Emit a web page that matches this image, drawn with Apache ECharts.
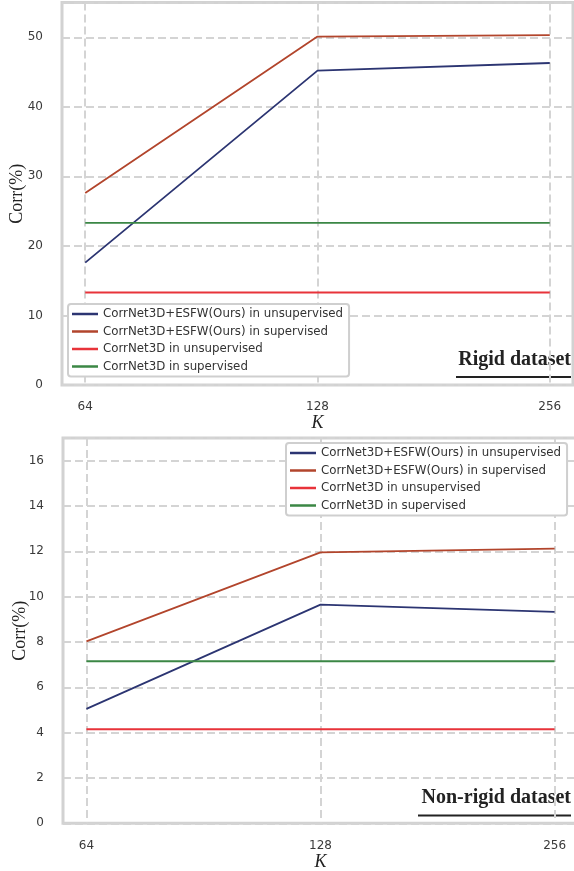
<!DOCTYPE html>
<html>
<head>
<meta charset="utf-8">
<script src="https://cdn.jsdelivr.net/npm/echarts@6/dist/echarts.min.js"></script>
<style>
html,body{margin:0;padding:0;background:#fff;}
#c{width:574px;height:871px;}
</style>
</head>
<body>
<div id="c"></div>
<script>
var kLabels = ['64', '128', '256'];
var seriesNames = ['CorrNet3D+ESFW(Ours) in unsupervised', 'CorrNet3D+ESFW(Ours) in supervised', 'CorrNet3D in unsupervised', 'CorrNet3D in supervised'];
var colors = ['#2c3572', '#b2452c', '#e8333a', '#3b8745'];
// Rigid dataset
var rigidOursUnsup = [17.6, 45.2, 46.3];
var rigidOursSup = [27.6, 50.1, 50.3];
var rigidBaseUnsup = [13.3, 13.3, 13.3];
var rigidBaseSup = [23.3, 23.3, 23.3];
// Non-rigid dataset
var nonrigidOursUnsup = [5.05, 9.65, 9.33];
var nonrigidOursSup = [8.03, 11.95, 12.12];
var nonrigidBaseUnsup = [4.15, 4.15, 4.15];
var nonrigidBaseSup = [7.15, 7.15, 7.15];

var rigidSets = [rigidOursUnsup, rigidOursSup, rigidBaseUnsup, rigidBaseSup];
var nonrigidSets = [nonrigidOursUnsup, nonrigidOursSup, nonrigidBaseUnsup, nonrigidBaseSup];

function pts(arr){ return arr.map(function(v,i){ return [i, v]; }); }

var gridLine = {show:true, lineStyle:{color:'#d4d4d4', width:2, type:[8,4]}};
var tickFont = {fontFamily:'DejaVu Sans', fontSize:12, color:'#3a3a3a'};

function xAxis(gi, gap, nameGap){
  return {
    type:'value', gridIndex:gi, min:-0.1, max:2.1,
    name:'K', nameLocation:'middle', nameGap:nameGap, nameMoveOverlap:false,
    nameTextStyle:{fontFamily:'Liberation Serif', fontStyle:'italic', fontSize:18, color:'#222'},
    axisLine:{show:false}, axisTick:{show:false, customValues:[0,1,2]},
    axisLabel:Object.assign({margin:gap, customValues:[0,1,2], formatter:function(v){ return kLabels[Math.round(v)]; }}, tickFont),
    splitLine:gridLine
  };
}
function yAxis(gi, max, interval, nameGap){
  return {
    type:'value', gridIndex:gi, min:0, max:max, interval:interval,
    name:'Corr(%)', nameLocation:'middle', nameGap:nameGap, nameMoveOverlap:false,
    nameTextStyle:{fontFamily:'Liberation Serif', fontSize:18, color:'#222'},
    axisLine:{show:false}, axisTick:{show:false},
    axisLabel:Object.assign({margin:19, showMaxLabel:false}, tickFont),
    splitLine:gridLine
  };
}

var series = [];
rigidSets.forEach(function(d,i){
  series.push({type:'line', name:seriesNames[i], xAxisIndex:0, yAxisIndex:0, data:pts(d), symbol:'none',
    lineStyle:{color:colors[i], width:1.8}, itemStyle:{color:colors[i]}, z:3});
});
nonrigidSets.forEach(function(d,i){
  series.push({type:'line', name:seriesNames[i], xAxisIndex:1, yAxisIndex:1, data:pts(d), symbol:'none',
    lineStyle:{color:colors[i], width:1.8}, itemStyle:{color:colors[i]}, z:3});
});

var legendBase = {
  orient:'vertical', icon:'rect', itemWidth:26, itemHeight:2.5, itemGap:5.5,
  backgroundColor:'#fff', borderColor:'#cfcfcf', borderWidth:2, borderRadius:3,
  padding:[4,6,4,4], selectedMode:false, z:10,
  textStyle:{fontFamily:'DejaVu Sans', fontSize:11.8, color:'#333'},
  data:seriesNames
};

var option = {
  animation:false,
  backgroundColor:'#fff',
  grid:[
    {left:62, top:2.5, width:511, height:382.5, show:true, borderColor:'#d2d2d2', borderWidth:3, backgroundColor:'transparent', outerBoundsMode:'none', containLabel:false},
    {left:63, top:438, width:515, height:385.3, show:true, borderColor:'#d2d2d2', borderWidth:3, backgroundColor:'transparent', outerBoundsMode:'none', containLabel:false}
  ],
  xAxis:[xAxis(0, 16, 29), xAxis(1, 17, 30)],
  yAxis:[yAxis(0, 55, 10, 36), yAxis(1, 17, 2, 34)],
  legend:[
    Object.assign({left:68, top:304}, legendBase),
    Object.assign({left:286, top:443}, legendBase)
  ],
  series:series,
  graphic:[
    {type:'text', right:3, top:350, style:{text:'Rigid dataset', font:'bold 20px "Liberation Serif"', fill:'#222'}},
    {type:'rect', shape:{x:456, y:376, width:115, height:2}, style:{fill:'#222'}},
    {type:'text', right:3, top:788, style:{text:'Non-rigid dataset', font:'bold 20px "Liberation Serif"', fill:'#222'}},
    {type:'rect', shape:{x:418, y:814.5, width:153, height:2}, style:{fill:'#222'}}
  ]
};
var chart = echarts.init(document.getElementById('c'), null, {renderer:'canvas'});
chart.setOption(option);
</script>
</body>
</html>
